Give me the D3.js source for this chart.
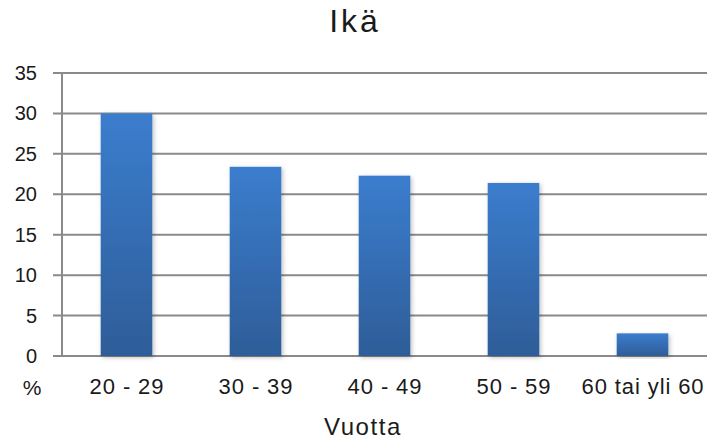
<!DOCTYPE html>
<html>
<head>
<meta charset="utf-8">
<script src="https://cdn.jsdelivr.net/npm/d3@7"></script>
<style>
  html, body { margin: 0; padding: 0; background: #fff; }
  svg { display: block; font-family: "Liberation Sans", Arial, sans-serif; }
</style>
</head>
<body>
<svg id="chart" width="709" height="443"></svg>
<script>
// Age distribution of respondents (%)
const categories = ["20 - 29", "30 - 39", "40 - 49", "50 - 59", "60 tai yli 60"];
const values = [30.0, 23.4, 22.3, 21.4, 2.8];
const yTicks = [0, 5, 10, 15, 20, 25, 30, 35];
const title = "Ikä";
const xTitle = "Vuotta";
const yUnit = "%";

const svg = d3.select("#chart");
const margin = { left: 62, right: 2, top: 73, bottom: 87 };
const W = 709, H = 443;

const x = d3.scaleBand()
  .domain(categories)
  .range([margin.left, W - margin.right])
  .paddingInner(0.6)
  .paddingOuter(0.3);

const y = d3.scaleLinear()
  .domain([0, 35])
  .range([H - margin.bottom, margin.top]);

// bar gradient, lighter at top
const defs = svg.append("defs");
const grad = defs.append("linearGradient")
  .attr("id", "barGrad").attr("x1", 0).attr("y1", 0).attr("x2", 0).attr("y2", 1);
grad.append("stop").attr("offset", "0%").attr("stop-color", "#3b7dce");
grad.append("stop").attr("offset", "100%").attr("stop-color", "#2e5d98");

const shadow = defs.append("filter").attr("id", "barShadow")
  .attr("x", "-20%").attr("y", "-10%").attr("width", "140%").attr("height", "120%");
shadow.append("feDropShadow")
  .attr("dx", 1.5).attr("dy", 1.5).attr("stdDeviation", 2)
  .attr("flood-color", "#000").attr("flood-opacity", 0.25);

// horizontal gridlines with small tick marks on the left
const grid = svg.append("g");
grid.selectAll("line")
  .data(yTicks)
  .join("line")
  .attr("x1", margin.left - 9)
  .attr("x2", W - margin.right)
  .attr("y1", d => y(d))
  .attr("y2", d => y(d))
  .attr("stroke", "#8a8a8a")
  .attr("stroke-width", 2);

// value axis line
svg.append("line")
  .attr("x1", margin.left).attr("x2", margin.left)
  .attr("y1", y(35)).attr("y2", y(0))
  .attr("stroke", "#8a8a8a").attr("stroke-width", 2);

// bars
svg.append("g").selectAll("rect")
  .data(values)
  .join("rect")
  .attr("x", (d, i) => x(categories[i]))
  .attr("y", d => y(d))
  .attr("width", x.bandwidth())
  .attr("height", d => y(0) - y(d))
  .attr("fill", "url(#barGrad)")
  .attr("filter", "url(#barShadow)");

// y tick labels
svg.append("g").selectAll("text")
  .data(yTicks)
  .join("text")
  .attr("x", 37)
  .attr("y", d => y(d))
  .attr("dy", "0.35em")
  .attr("text-anchor", "end")
  .attr("font-size", 20)
  .attr("fill", "#1a1a1a")
  .text(d => d);

// category labels
svg.append("g").selectAll("text")
  .data(categories)
  .join("text")
  .attr("x", d => x(d) + x.bandwidth() / 2 + 0.5)
  .attr("y", 394)
  .attr("text-anchor", "middle")
  .attr("font-size", 22)
  .attr("letter-spacing", 0.9)
  .attr("fill", "#1a1a1a")
  .text(d => d);

// unit label
svg.append("text")
  .attr("x", 32).attr("y", 395)
  .attr("text-anchor", "middle")
  .attr("font-size", 21)
  .attr("fill", "#1a1a1a")
  .text(yUnit);

// axis title
svg.append("text")
  .attr("x", 363).attr("y", 435)
  .attr("text-anchor", "middle")
  .attr("font-size", 24)
  .attr("letter-spacing", 1.6)
  .attr("fill", "#1a1a1a")
  .text(xTitle);

// chart title
svg.append("text")
  .attr("x", 355).attr("y", 32)
  .attr("text-anchor", "middle")
  .attr("font-size", 32)
  .attr("letter-spacing", 3)
  .attr("fill", "#1a1a1a")
  .text(title);
</script>
</body>
</html>
